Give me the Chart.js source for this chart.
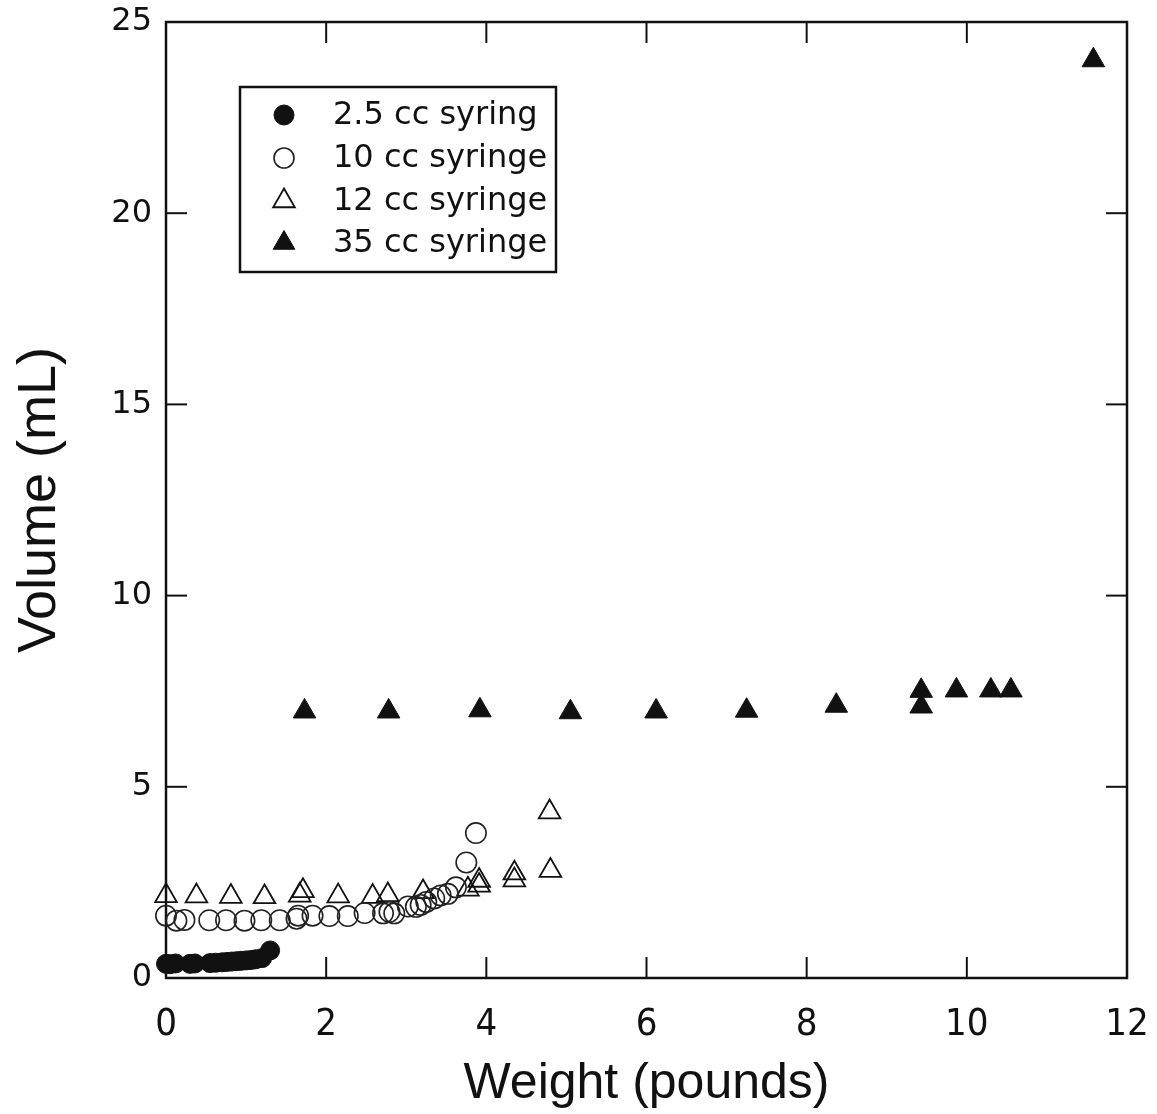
<!DOCTYPE html>
<html><head><meta charset="utf-8">
<script src="https://cdn.jsdelivr.net/npm/chart.js@4.4.1/dist/chart.umd.min.js"></script>
<style>html,body{margin:0;padding:0;background:#fff;}#wrap{width:1157px;height:1114px;}</style>
</head><body><div id="wrap"><canvas id="c" width="1157" height="1114"></canvas></div>
<script>
// ---- data ----
const xTickValues = [0, 2, 4, 6, 8, 10, 12];
const yTickValues = [0, 5, 10, 15, 20, 25];
const seriesNames = ['2.5 cc syring', '10 cc syringe', '12 cc syringe', '35 cc syringe'];
const xTitle = 'Weight (pounds)';
const yTitle = 'Volume (mL)';

const s25x = [0.0, 0.05, 0.12, 0.3, 0.36, 0.55, 0.62, 0.7, 0.76, 0.82, 0.88, 0.94, 1.0, 1.06, 1.12, 1.2, 1.3];
const s25y = [0.37, 0.36, 0.38, 0.37, 0.38, 0.39, 0.40, 0.41, 0.42, 0.43, 0.44, 0.45, 0.46, 0.47, 0.49, 0.52, 0.72];

const s10x = [0.0, 0.13, 0.23, 0.54, 0.75, 0.98, 1.19, 1.42, 1.63, 1.65, 1.83, 2.04, 2.27, 2.48, 2.71, 2.79, 2.85, 3.02, 3.12, 3.18, 3.25, 3.35, 3.43, 3.52, 3.62, 3.75, 3.87];
const s10y = [1.63, 1.50, 1.52, 1.51, 1.51, 1.50, 1.51, 1.51, 1.55, 1.63, 1.63, 1.62, 1.62, 1.70, 1.69, 1.73, 1.69, 1.87, 1.86, 1.91, 1.99, 2.08, 2.16, 2.20, 2.37, 3.02, 3.79];

const s12x = [0.0, 0.38, 0.81, 1.23, 1.67, 1.71, 2.15, 2.58, 2.77, 3.21, 3.77, 3.91, 3.91, 4.35, 4.35, 4.80, 4.79];
const s12y = [2.15, 2.14, 2.13, 2.12, 2.16, 2.28, 2.14, 2.13, 2.17, 2.25, 2.32, 2.55, 2.42, 2.74, 2.56, 2.81, 4.34];

const s35x = [1.73, 2.78, 3.92, 5.05, 6.12, 7.25, 8.37, 9.43, 9.43, 9.87, 10.30, 10.55, 11.58];
const s35y = [6.97, 6.97, 7.00, 6.95, 6.97, 6.99, 7.12, 7.51, 7.10, 7.52, 7.52, 7.52, 24.0];

const pts = (xs, ys) => xs.map((x, i) => ({x, y: ys[i]}));
const INK = '#111';

const framePlugin = {
  id: 'frame',
  beforeDatasetsDraw(chart) {
    const {ctx, chartArea: a, scales: {x, y}} = chart;
    ctx.save();
    ctx.strokeStyle = INK;
    ctx.lineWidth = 2.5;
    ctx.strokeRect(a.left, a.top, a.right - a.left, a.bottom - a.top);
    ctx.lineWidth = 2;
    const L = 21;
    const seg = (x1, y1, x2, y2) => { ctx.beginPath(); ctx.moveTo(x1, y1); ctx.lineTo(x2, y2); ctx.stroke(); };
    x.ticks.forEach(t => {
      if (t.value <= x.min || t.value >= x.max) return;
      const p = x.getPixelForValue(t.value);
      seg(p, a.bottom, p, a.bottom - L);
      seg(p, a.top, p, a.top + L);
    });
    y.ticks.forEach(t => {
      if (t.value <= y.min || t.value >= y.max) return;
      const p = y.getPixelForValue(t.value);
      seg(a.left, p, a.left + L, p);
      seg(a.right, p, a.right - L, p);
    });
    ctx.restore();
  }
};

const legendPlugin = {
  id: 'boxLegend',
  afterDraw(chart) {
    const ctx = chart.ctx;
    const bx = 240, by = 87, bw = 316, bh = 185;
    ctx.save();
    ctx.strokeStyle = INK;
    ctx.lineWidth = 2.5;
    ctx.fillStyle = '#fff';
    ctx.fillRect(bx, by, bw, bh);
    ctx.strokeRect(bx, by, bw, bh);
    const rows = [115, 158, 201, 243];
    chart.data.datasets.forEach((ds, i) => {
      const yy = rows[i];
      ctx.fillStyle = ds.backgroundColor;
      ctx.strokeStyle = ds.borderColor;
      ctx.lineWidth = ds.borderWidth;
      const r = ds.pointStyle === 'triangle' ? 12.5 : 10;
      Chart.helpers.drawPoint(ctx, {pointStyle: ds.pointStyle, radius: r, rotation: 0, borderWidth: ds.borderWidth}, 284, yy);
      ctx.fillStyle = INK;
      ctx.font = '32px "DejaVu Sans"';
      ctx.textBaseline = 'middle';
      ctx.textAlign = 'left';
      ctx.fillText(ds.label, 333, yy + 1);
    });
    ctx.restore();
  }
};

new Chart(document.getElementById('c'), {
  type: 'scatter',
  data: {
    datasets: [
      {label: seriesNames[0], data: pts(s25x, s25y), pointStyle: 'circle', pointRadius: 9.5, backgroundColor: INK, borderColor: INK, borderWidth: 1, clip: false},
      {label: seriesNames[1], data: pts(s10x, s10y), pointStyle: 'circle', pointRadius: 10.2, backgroundColor: 'rgba(0,0,0,0)', borderColor: '#222', borderWidth: 1.6, clip: false},
      {label: seriesNames[2], data: pts(s12x, s12y), pointStyle: 'triangle', pointRadius: 12.5, backgroundColor: 'rgba(0,0,0,0)', borderColor: INK, borderWidth: 1.8, clip: false},
      {label: seriesNames[3], data: pts(s35x, s35y), pointStyle: 'triangle', pointRadius: 13, backgroundColor: INK, borderColor: INK, borderWidth: 1, clip: false}
    ]
  },
  options: {
    responsive: false,
    devicePixelRatio: 1,
    animation: false,
    events: [],
    layout: {padding: {top: 22, right: 30, left: 0, bottom: 0}},
    plugins: {legend: {display: false}, tooltip: {enabled: false}},
    scales: {
      x: {
        type: 'linear', min: 0, max: 12,
        afterBuildTicks: s => { s.ticks = xTickValues.map(v => ({value: v})); },
        afterFit: s => { s.height = 136; s.paddingLeft = 0; s.paddingRight = 0; },
        grid: {display: false, drawTicks: false},
        border: {display: false},
        ticks: {color: INK, padding: 24, maxRotation: 0, font: {family: '"Liberation Sans Narrow", "DejaVu Sans Condensed", sans-serif', size: 38}},
        title: {display: true, text: xTitle, color: INK, padding: {top: 0, bottom: 0}, font: {family: '"Liberation Sans", Arial, sans-serif', size: 50}}
      },
      y: {
        type: 'linear', min: 0, max: 25,
        afterBuildTicks: s => { s.ticks = yTickValues.map(v => ({value: v})); },
        afterFit: s => { s.width = 166; s.paddingTop = 0; s.paddingBottom = 0; },
        grid: {display: false, drawTicks: false},
        border: {display: false},
        ticks: {color: INK, padding: 14, font: {family: '"DejaVu Sans", sans-serif', size: 32}},
        title: {display: true, text: yTitle, color: INK, padding: {top: 8, bottom: 0}, font: {family: '"Liberation Sans", Arial, sans-serif', size: 54}}
      }
    }
  },
  plugins: [framePlugin, legendPlugin]
});
</script></body></html>
